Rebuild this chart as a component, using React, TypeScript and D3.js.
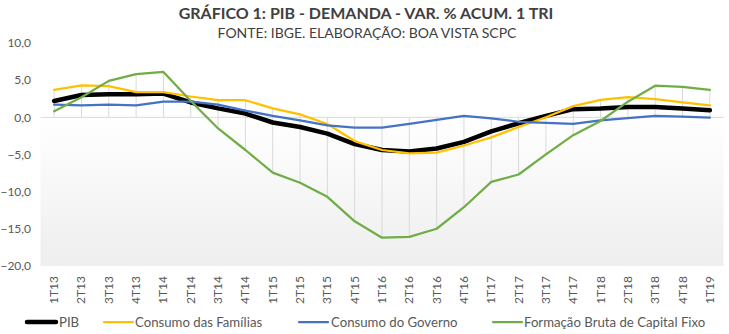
import React from "react";
import * as d3 from "d3";

const categories = ["1T13","2T13","3T13","4T13","1T14","2T14","3T14","4T14","1T15","2T15","3T15","4T15","1T16","2T16","3T16","4T16","1T17","2T17","3T17","4T17","1T18","2T18","3T18","4T18","1T19"];
const pib = [2.2, 3.0, 3.1, 3.1, 3.2, 2.0, 1.2, 0.5, -0.7, -1.3, -2.2, -3.6, -4.4, -4.6, -4.2, -3.3, -1.9, -0.8, 0.2, 1.1, 1.2, 1.4, 1.4, 1.2, 0.95];
const familias = [3.7, 4.3, 4.2, 3.4, 3.4, 2.8, 2.3, 2.3, 1.2, 0.4, -0.9, -3.2, -4.4, -4.85, -4.75, -3.8, -2.7, -1.3, 0.0, 1.5, 2.35, 2.7, 2.45, 2.0, 1.6];
const governo = [1.7, 1.6, 1.7, 1.6, 2.1, 2.1, 1.7, 0.9, 0.2, -0.4, -1.1, -1.4, -1.4, -0.9, -0.35, 0.2, -0.15, -0.6, -0.75, -0.9, -0.4, -0.1, 0.2, 0.1, -0.05];
const fbcf = [0.8, 2.7, 4.9, 5.8, 6.1, 2.2, -1.5, -4.4, -7.45, -8.8, -10.7, -14.0, -16.2, -16.1, -15.0, -12.1, -8.7, -7.7, -5.0, -2.4, -0.5, 2.1, 4.25, 4.1, 3.7];
const yTicks = [10, 5, 0, -5, -10, -15, -20];
const seriesNames = ["PIB", "Consumo das Famílias", "Consumo do Governo", "Formação Bruta de Capital Fixo"];
const title = "GRÁFICO 1: PIB - DEMANDA - VAR. % ACUM. 1 TRI";
const subtitle = "FONTE: IBGE. ELABORAÇÃO: BOA VISTA SCPC";

export default function App() {
  const W = 729, H = 334;
  const left = 40.5, right = 723.5;
  const x = d3.scaleBand<string>().domain(categories).range([left, right]);
  const cx = (c: string) => (x(c) as number) + x.bandwidth() / 2;
  const y = d3.scaleLinear().domain([-20, 10]).range([265.9, 43.0]);
  const series = [
    { name: seriesNames[0], data: pib, color: "#000000", width: 4.5 },
    { name: seriesNames[1], data: familias, color: "#FFC000", width: 2.25 },
    { name: seriesNames[2], data: governo, color: "#4472C4", width: 2.25 },
    { name: seriesNames[3], data: fbcf, color: "#70AD47", width: 2.25 },
  ];
  const line = d3.line<number>()
    .x((_, i) => cx(categories[i]))
    .y((d) => y(d));
  const font = "Lato, 'Open Sans', sans-serif";
  const legendItems = [
    { x: 27, tx: 59 },
    { x: 104, tx: 135 },
    { x: 299, tx: 331 },
    { x: 493, tx: 524 },
  ];
  return (
    <svg width={W} height={H} style={{ position: "absolute", left: 0, top: 0, background: "#fff" }} fontFamily={font}>
      <defs>
        <linearGradient id="bg" x1="0" y1="0" x2="0" y2="1">
          <stop offset="0" stopColor="#ffffff" />
          <stop offset="1" stopColor="#eeeeee" />
        </linearGradient>
      </defs>
      <text x={366} y={19} textAnchor="middle" fontSize={16} fontWeight="bold" fill="#404040">{title}</text>
      <text x={367} y={38} textAnchor="middle" fontSize={14} fill="#404040">{subtitle}</text>
      <rect x={left} y={y(0)} width={right - left} height={y(-20) - y(0)} fill="url(#bg)" />
      {categories.map((c, i) => {
        const vals = series.map((s) => s.data[i]);
        const hi = Math.max(0, ...vals);
        const lo = Math.min(0, ...vals);
        return <line key={c} x1={cx(c)} x2={cx(c)} y1={y(hi)} y2={y(lo)} stroke="#d9d9d9" strokeWidth={1} />;
      })}
      <line x1={left} x2={right} y1={y(0)} y2={y(0)} stroke="#d9d9d9" strokeWidth={1} />
      {yTicks.map((t) => (
        <text key={t} x={31} y={y(t)} dy="0.35em" textAnchor="end" fontSize={12} fill="#595959">
          {d3.format(".1f")(t).replace(".", ",")}
        </text>
      ))}
      {categories.map((c) => (
        <text key={c} transform={`translate(${cx(c) + 4},${276}) rotate(-90)`} textAnchor="end" fontSize={12} fill="#595959">{c}</text>
      ))}
      {series.map((s) => (
        <path key={s.name} d={line(s.data) as string} fill="none" stroke={s.color} strokeWidth={s.width} strokeLinejoin="round" strokeLinecap="round" />
      ))}
      {series.map((s, i) => (
        <g key={s.name}>
          <line x1={legendItems[i].x} x2={legendItems[i].x + 29} y1={322} y2={322} stroke={s.color} strokeWidth={s.width} strokeLinecap="round" />
          <text x={legendItems[i].tx} y={322} dy="0.35em" fontSize={13.2} fill="#595959">{s.name}</text>
        </g>
      ))}
    </svg>
  );
}
